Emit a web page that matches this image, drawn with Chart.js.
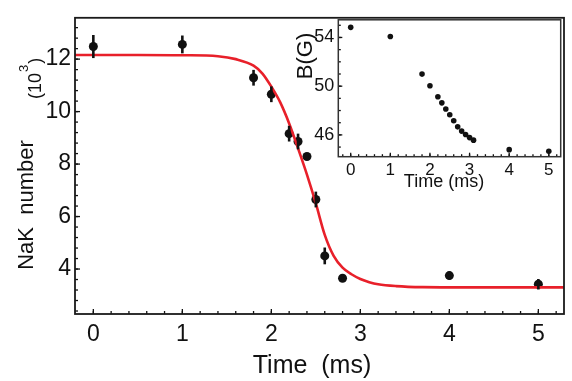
<!DOCTYPE html>
<html><head><meta charset="utf-8">
<script src="https://cdn.jsdelivr.net/npm/chart.js@4.4.0/dist/chart.umd.min.js"></script>
<style>
html,body{margin:0;padding:0;background:#fff;}
#wrap{position:relative;width:572px;height:381px;overflow:hidden;}
#main{position:absolute;left:0;top:0;}
#inset{position:absolute;left:285px;top:5px;}
</style></head><body>
<div id="wrap"><canvas id="main" width="572" height="381"></canvas><canvas id="inset" width="281" height="195"></canvas></div>
<script>
// ---- data ----
const times = [0, 1, 1.8, 2.0, 2.2, 2.3, 2.4, 2.5, 2.6, 2.8, 4, 5];
const nakNumber = [12.48, 12.56, 11.29, 10.66, 9.16, 8.86, 8.29, 6.65, 4.50, 3.65, 3.75, 3.42];
const nakError = [0.44, 0.34, 0.30, 0.30, 0.30, 0.30, 0.12, 0.30, 0.32, 0.12, 0.15, 0.20];
const fitTimes = [-0.25, 0.5, 1.0, 1.4, 1.6, 1.8, 1.9, 2.0, 2.1, 2.2, 2.3, 2.4, 2.5, 2.6, 2.7, 2.8, 2.9, 3.0, 3.1, 3.2, 3.4, 3.7, 4.2, 5.3];
const fitValues = [12.16, 12.16, 12.15, 12.11, 12.0, 11.75, 11.45, 10.95, 10.35, 9.55, 8.6, 7.6, 6.5, 5.3, 4.5, 4.05, 3.8, 3.62, 3.5, 3.42, 3.35, 3.31, 3.3, 3.3];
const xTicks = [0, 1, 2, 3, 4, 5];
const yTicks = [4, 6, 8, 10, 12];

const insetTimes = [0, 1, 1.8, 2.0, 2.2, 2.3, 2.4, 2.5, 2.6, 2.7, 2.8, 2.9, 3.0, 3.1, 4, 5];
const insetField = [54.83, 54.08, 50.99, 50.03, 49.13, 48.63, 48.13, 47.66, 47.16, 46.66, 46.31, 46.03, 45.78, 45.57, 44.79, 44.66];
const insetXTicks = [0, 1, 2, 3, 4, 5];
const insetYTicks = [46, 50, 54];

const FONT = '"Liberation Sans", Arial, Helvetica, sans-serif';
const INK = '#111';

function range(a, b, step) { const r = []; for (let v = a; v <= b + 1e-9; v += step) r.push(+v.toFixed(4)); return r; }

function decoPlugin(o) {
  return {
    id: 'deco',
    afterDatasetsDraw(chart) {
      const ctx = chart.ctx, ca = chart.chartArea;
      const xs = chart.scales.x, ys = chart.scales.y;
      ctx.save();
      // error bars
      if (o.errors) {
        ctx.strokeStyle = INK; ctx.lineWidth = 2.6; ctx.lineCap = 'butt';
        o.errors.x.forEach((t, i) => {
          const px = xs.getPixelForValue(t);
          const y1 = ys.getPixelForValue(o.errors.y[i] - o.errors.e[i]);
          const y2 = ys.getPixelForValue(o.errors.y[i] + o.errors.e[i]);
          ctx.beginPath(); ctx.moveTo(px, y1); ctx.lineTo(px, y2); ctx.stroke();
        });
      }
      // ticks
      ctx.strokeStyle = INK;
      ctx.lineWidth = 1.3;
      const drawX = (vals, len) => vals.forEach(v => {
        const p = xs.getPixelForValue(v);
        if (p < ca.left + 1 || p > ca.right - 1) return;
        ctx.beginPath(); ctx.moveTo(p, ca.bottom); ctx.lineTo(p, ca.bottom - len); ctx.stroke();
      });
      const drawY = (vals, len) => vals.forEach(v => {
        const p = ys.getPixelForValue(v);
        if (p < ca.top + 1 || p > ca.bottom - 1) return;
        ctx.beginPath(); ctx.moveTo(ca.left, p); ctx.lineTo(ca.left + len, p); ctx.stroke();
      });
      drawX(o.xMinor, o.minorLen); drawX(o.xMajor, o.majorLen);
      drawY(o.yMinor, o.minorLen); drawY(o.yMajor, o.majorLen);
      // frame
      ctx.lineWidth = o.frameWidth; ctx.strokeStyle = o.frameColor;
      ctx.strokeRect(ca.left, ca.top, ca.right - ca.left, ca.bottom - ca.top);
      ctx.restore();
    },
    afterDraw(chart) {
      const ctx = chart.ctx;
      ctx.save();
      ctx.fillStyle = INK;
      o.titles(ctx);
      ctx.restore();
    }
  };
}

// ---- main chart ----
new Chart(document.getElementById('main'), {
  type: 'scatter',
  data: {
    datasets: [
      {
        label: 'fit', type: 'line',
        data: fitTimes.map((t, i) => ({ x: t, y: fitValues[i] })),
        borderColor: '#e8202a', borderWidth: 2.6, pointRadius: 0, fill: false,
        cubicInterpolationMode: 'monotone', order: 0
      },
      {
        label: 'NaK number',
        data: times.map((t, i) => ({ x: t, y: nakNumber[i] })),
        backgroundColor: INK, borderColor: INK, pointRadius: 4.5, pointBorderWidth: 0, order: 1
      }
    ]
  },
  options: {
    responsive: false, animation: false, devicePixelRatio: 1,
    layout: { padding: { left: 0, right: 8, top: 13, bottom: 0 } },
    plugins: { legend: { display: false }, tooltip: { enabled: false } },
    scales: {
      x: {
        type: 'linear', min: -0.206, max: 5.288,
        grid: { display: false, drawTicks: false }, border: { display: false },
        afterBuildTicks: s => { s.ticks = xTicks.map(v => ({ value: v })); },
        afterFit: s => { s.height = 67; },
        ticks: { color: INK, padding: 7, font: { family: FONT, size: 23 }, maxRotation: 0, callback: v => String(v) }
      },
      y: {
        type: 'linear', min: 2.286, max: 13.575,
        grid: { display: false, drawTicks: false }, border: { display: false },
        afterBuildTicks: s => { s.ticks = yTicks.map(v => ({ value: v })); },
        afterFit: s => { s.width = 75; },
        ticks: { color: INK, padding: 4, font: { family: FONT, size: 23 }, callback: v => String(v) }
      }
    }
  },
  plugins: [decoPlugin({
    errors: { x: times, y: nakNumber, e: nakError },
    xMajor: xTicks, xMinor: range(-0.2, 5.2, 0.2),
    yMajor: yTicks, yMinor: range(2.4, 13.6, 0.4),
    majorLen: 5, minorLen: 3, frameWidth: 1.8, frameColor: '#1a1a1a',
    titles(ctx) {
      ctx.textBaseline = 'alphabetic';
      ctx.font = '25px ' + FONT; ctx.textAlign = 'center';
      ctx.fillText('Time  (ms)', 312, 373);
      ctx.save();
      ctx.translate(33, 205); ctx.rotate(-Math.PI / 2);
      ctx.font = '22px ' + FONT; ctx.textAlign = 'center';
      ctx.fillText('NaK  number', 0, 0);
      ctx.restore();
      ctx.save();
      ctx.translate(41, 99); ctx.rotate(-Math.PI / 2);
      ctx.textAlign = 'left';
      ctx.font = '18px ' + FONT;
      let x = 0;
      ctx.fillText('(10', x, 0); x += ctx.measureText('(10').width + 1;
      ctx.font = '13px ' + FONT;
      ctx.fillText('3', x, -13); x += ctx.measureText('3').width + 1;
      ctx.font = '18px ' + FONT;
      ctx.fillText(')', x, 0);
      ctx.restore();
    }
  })]
});

// ---- inset chart ----
new Chart(document.getElementById('inset'), {
  type: 'scatter',
  data: {
    datasets: [{
      label: 'B (G)',
      data: insetTimes.map((t, i) => ({ x: t, y: insetField[i] })),
      backgroundColor: INK, borderColor: INK, pointRadius: 2.8, pointBorderWidth: 0
    }]
  },
  options: {
    responsive: false, animation: false, devicePixelRatio: 1,
    layout: { padding: { left: 0, right: 5.3, top: 10.7, bottom: 0 } },
    plugins: { legend: { display: false }, tooltip: { enabled: false } },
    scales: {
      x: {
        type: 'linear', min: -0.313, max: 5.30,
        grid: { display: false, drawTicks: false }, border: { display: false },
        afterBuildTicks: s => { s.ticks = insetXTicks.map(v => ({ value: v })); },
        afterFit: s => { s.height = 43.3; },
        ticks: { color: INK, padding: 3, font: { family: FONT, size: 17 }, maxRotation: 0, callback: v => String(v) }
      },
      y: {
        type: 'linear', min: 44.21, max: 55.45,
        grid: { display: false, drawTicks: false }, border: { display: false },
        afterBuildTicks: s => { s.ticks = insetYTicks.map(v => ({ value: v })); },
        afterFit: s => { s.width = 53.3; },
        ticks: { color: INK, padding: 4, font: { family: FONT, size: 18 }, callback: v => String(v) }
      }
    }
  },
  plugins: [{
    id: 'bg',
    beforeDraw(chart) {
      const ca = chart.chartArea, ctx = chart.ctx;
      ctx.save(); ctx.fillStyle = '#fff';
      ctx.fillRect(ca.left, ca.top, ca.right - ca.left, ca.bottom - ca.top);
      ctx.restore();
    }
  }, decoPlugin({
    xMajor: insetXTicks, xMinor: range(-0.2, 5.2, 0.2),
    yMajor: insetYTicks, yMinor: range(45, 55, 1),
    majorLen: 4, minorLen: 2.5, frameWidth: 1.5, frameColor: '#333',
    titles(ctx) {
      ctx.textBaseline = 'alphabetic';
      ctx.font = '18px ' + FONT; ctx.textAlign = 'center';
      ctx.fillText('Time (ms)', 159, 181.5);
      ctx.save();
      ctx.translate(27, 51); ctx.rotate(-Math.PI / 2);
      ctx.font = '22px ' + FONT; ctx.textAlign = 'center';
      ctx.fillText('B(G)', 0, 0);
      ctx.restore();
    }
  })]
});
</script>
</body></html>
